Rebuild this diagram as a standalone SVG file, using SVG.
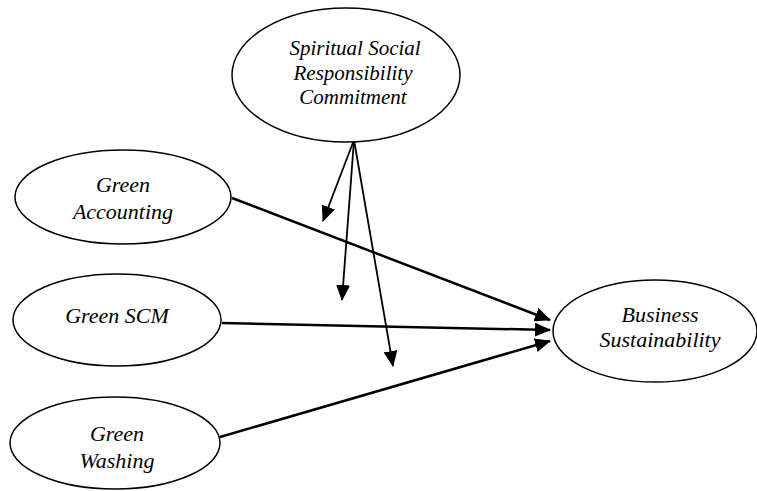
<svg xmlns="http://www.w3.org/2000/svg" width="757" height="491" viewBox="0 0 757 491">
<style>
.node ellipse{fill:#fff;stroke:#000;stroke-width:1.5}
.node text{font-family:"Liberation Serif","Times New Roman",serif;font-style:italic;font-size:22px;text-anchor:middle;fill:#000}
#ssrc text{font-size:21px}
.main{stroke:#000;stroke-width:2.5;fill:none}
.mod{stroke:#000;stroke-width:1.8;fill:none}
</style>
<defs>
<marker id="ah" markerUnits="userSpaceOnUse" markerWidth="16" markerHeight="14" refX="15" refY="7" orient="auto"><path d="M0,0 L16,7 L0,14 Z" fill="#000"/></marker>
</defs>
<rect width="757" height="491" fill="#fff"/>
<g id="connectors">
<line class="main" x1="232" y1="198" x2="550" y2="320" marker-end="url(#ah)"/>
<line class="main" x1="222" y1="323" x2="550" y2="330" marker-end="url(#ah)"/>
<line class="main" x1="220" y1="437" x2="550" y2="341" marker-end="url(#ah)"/>
<line class="mod" x1="354" y1="140" x2="323" y2="221" marker-end="url(#ah)"/>
<line class="mod" x1="354" y1="140" x2="342" y2="300" marker-end="url(#ah)"/>
<line class="mod" x1="354" y1="140" x2="393" y2="366" marker-end="url(#ah)"/>
</g>
<g id="ssrc" class="node"><ellipse cx="346" cy="75" rx="114" ry="67"/><text x="355" y="55">Spiritual Social</text><text x="353" y="80">Responsibility</text><text x="353" y="104">Commitment</text></g>
<g id="ga" class="node"><ellipse cx="123" cy="197" rx="108" ry="47"/><text x="123" y="192">Green</text><text x="123" y="219">Accounting</text></g>
<g id="gscm" class="node"><ellipse cx="117" cy="320" rx="104" ry="46"/><text x="117" y="323">Green SCM</text></g>
<g id="gw" class="node"><ellipse cx="115" cy="443" rx="105" ry="46"/><text x="117" y="441">Green</text><text x="117" y="468">Washing</text></g>
<g id="bs" class="node"><ellipse cx="655" cy="331" rx="102" ry="51"/><text x="660" y="322">Business</text><text x="660" y="347">Sustainability</text></g>
</svg>
